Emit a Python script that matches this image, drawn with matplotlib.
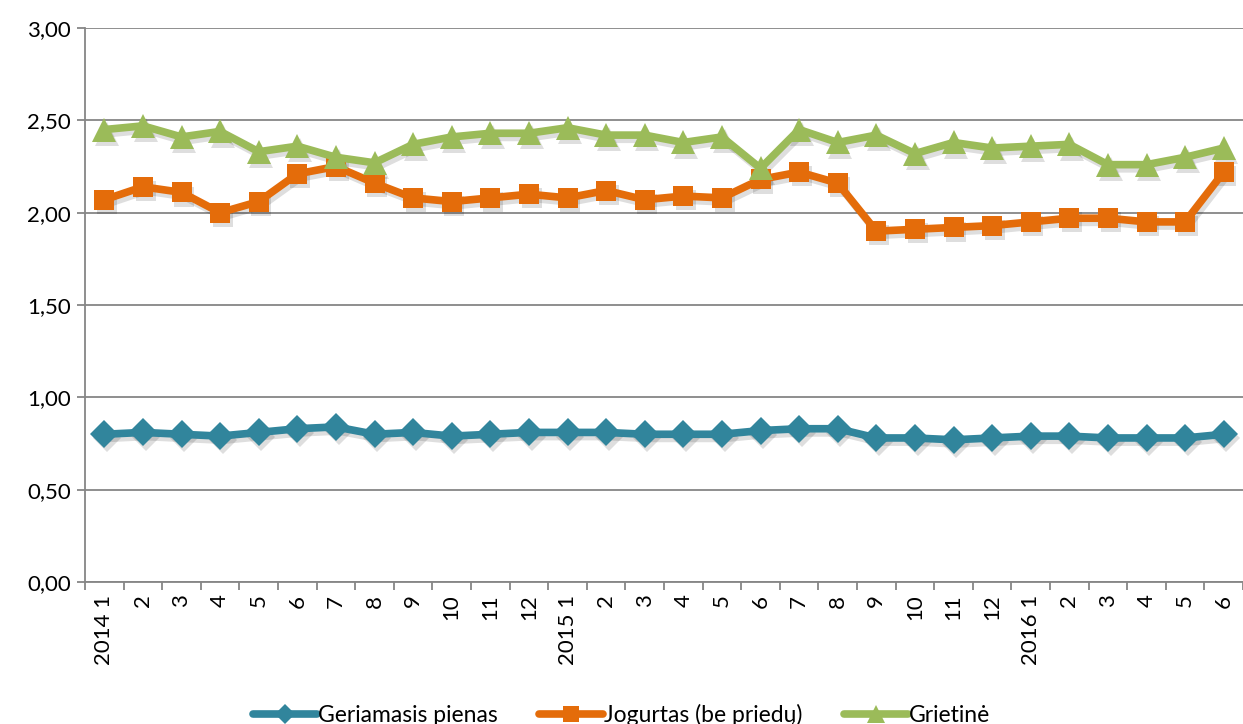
import numpy as np
import matplotlib.pyplot as plt
import matplotlib.transforms as mtransforms

plt.rcParams['font.family'] = ['Lato', 'DejaVu Sans']

labels = ["2014 1", "2", "3", "4", "5", "6", "7", "8", "9", "10", "11", "12",
          "2015 1", "2", "3", "4", "5", "6", "7", "8", "9", "10", "11", "12",
          "2016 1", "2", "3", "4", "5", "6"]

pienas = [0.80, 0.81, 0.80, 0.79, 0.81, 0.83, 0.84, 0.80, 0.81, 0.79,
          0.80, 0.81, 0.81, 0.81, 0.80, 0.80, 0.80, 0.82, 0.83, 0.83,
          0.78, 0.78, 0.77, 0.78, 0.79, 0.79, 0.78, 0.78, 0.78, 0.80]
jogurtas = [2.07, 2.14, 2.11, 2.00, 2.06, 2.21, 2.25, 2.16, 2.08, 2.06,
            2.08, 2.10, 2.08, 2.12, 2.07, 2.09, 2.08, 2.18, 2.22, 2.16,
            1.90, 1.91, 1.92, 1.93, 1.95, 1.97, 1.97, 1.95, 1.95, 2.22]
grietine = [2.45, 2.47, 2.41, 2.44, 2.33, 2.36, 2.30, 2.27, 2.37, 2.41,
            2.43, 2.43, 2.46, 2.42, 2.42, 2.38, 2.41, 2.24, 2.45, 2.38,
            2.42, 2.32, 2.38, 2.35, 2.36, 2.37, 2.26, 2.26, 2.30, 2.35]

series = [("Geriamasis pienas", pienas, "#31859C", "D", 14),
          ("Jogurtas (be priedų)", jogurtas, "#E46C0A", "s", 15),
          ("Grietinė", grietine, "#9BBB59", "^", 17)]

fig = plt.figure(figsize=(12.43, 7.24), dpi=100)
ax = fig.add_axes([85 / 1243, 1 - 582 / 724, 1 - 85 / 1243, (582 - 28) / 724])

x = np.arange(len(labels))
shift = ax.transData + mtransforms.ScaledTranslation(2 / 72, -3 / 72, fig.dpi_scale_trans)
for name, vals, col, mk, ms in series:
    ax.plot(x, vals, color="black", alpha=0.13, lw=5.5, marker=mk, markersize=ms,
            markeredgewidth=0, transform=shift, zorder=2)
    ax.plot(x, vals, color=col, lw=5.5, marker=mk, markersize=ms, markeredgewidth=0,
            solid_capstyle="round", label=name, zorder=3)

ax.set_xlim(-0.5, len(labels) - 0.5)
ax.set_ylim(0, 3)
ax.set_yticks(np.arange(0, 3.01, 0.5))
ax.set_yticklabels([f"{v:.2f}".replace(".", ",") for v in np.arange(0, 3.01, 0.5)], fontsize=16)
ax.grid(axis="y", color="#868686", lw=1.3)
ax.set_axisbelow(True)

ax.set_xticks(x)
ax.set_xticklabels(labels, rotation=90, fontsize=16, va="top")
ax.tick_params(axis="x", length=0, pad=9)
ax.set_xticks(np.arange(-0.5, len(labels), 1), minor=True)
ax.tick_params(axis="x", which="minor", length=6, color="#868686", width=1.3)
ax.tick_params(axis="y", length=6, color="#868686", width=1.3, pad=4)

for s in ["top", "right"]:
    ax.spines[s].set_visible(False)
for s in ["left", "bottom"]:
    ax.spines[s].set_color("#868686")
    ax.spines[s].set_linewidth(1.3)

leg = fig.legend(loc="center", bbox_to_anchor=(0.5, 0.012), ncol=3, frameon=False,
                 fontsize=16.5, handlelength=2.8, handletextpad=0.05, columnspacing=1.8,
                 markerscale=0.75)

fig.savefig("out.png", dpi=100)
